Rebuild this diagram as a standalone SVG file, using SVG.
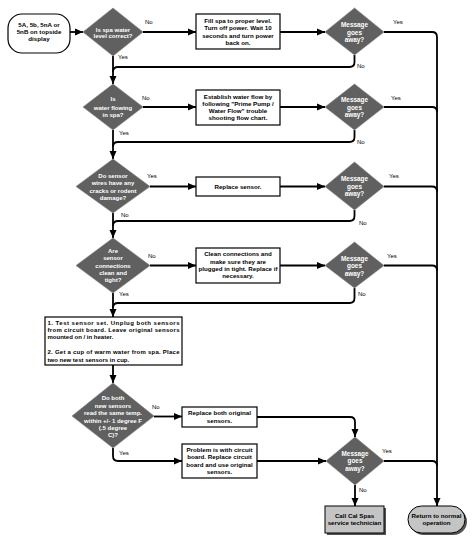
<svg xmlns="http://www.w3.org/2000/svg" width="474" height="543" viewBox="0 0 474 543">
<defs>
<marker id="ah" markerUnits="userSpaceOnUse" markerWidth="8" markerHeight="8" viewBox="0 0 8 8" refX="8" refY="4" orient="auto"><path d="M0,0.5 L8,4 L0,7.5 Z" fill="#000"/></marker>
<style>
.bx{fill:#fff;stroke:#000;stroke-width:1.2}
.dm{fill:#606060;stroke:#808080;stroke-width:0.6}
.gr{fill:#c4c4c4;stroke:#000;stroke-width:1}
.sh{fill:#555}
.t{font-family:"Liberation Sans",Arial,sans-serif;font-size:6.2px;font-weight:bold;fill:#000;text-anchor:middle}
.w{font-family:"Liberation Sans",Arial,sans-serif;font-size:6px;font-weight:bold;fill:#fff;text-anchor:middle}
.m{font-size:6.4px}
.l{font-family:"Liberation Sans",Arial,sans-serif;font-size:6px;fill:#000}
.tl{font-family:"Liberation Sans",Arial,sans-serif;font-size:6px;font-weight:bold;fill:#000}
.c{fill:none;stroke:#000;stroke-width:1.8}
</style>
</defs>
<rect width="474" height="543" fill="#fff"/>
<g id="connectors">
<path class="c" d="M70 32 H83" marker-end="url(#ah)"/>
<path class="c" d="M143 32 H196" marker-end="url(#ah)"/>
<path class="c" d="M280 32 H325" marker-end="url(#ah)"/>
<path class="c" d="M384 32 H432 Q437 32 437 37 V506" marker-end="url(#ah)"/>
<path class="c" d="M113 56 V84" marker-end="url(#ah)"/>
<path class="c" d="M354.5 55 V62 Q354.5 67 349.5 67 H118 Q113 67 113 72"/>
<path class="c" d="M143 107 H196" marker-end="url(#ah)"/>
<path class="c" d="M280 107 H325" marker-end="url(#ah)"/>
<path class="c" d="M384 107 H432 Q437 107 437 112"/>
<path class="c" d="M113 130 V159" marker-end="url(#ah)"/>
<path class="c" d="M354.5 130 V137 Q354.5 142 349.5 142 H118 Q113 142 113 147"/>
<path class="c" d="M150 186.5 H196" marker-end="url(#ah)"/>
<path class="c" d="M280 186.5 H325" marker-end="url(#ah)"/>
<path class="c" d="M384 186.5 H432 Q437 186.5 437 191.5"/>
<path class="c" d="M113 213 V238" marker-end="url(#ah)"/>
<path class="c" d="M354.5 210 V216 Q354.5 221 349.5 221 H118 Q113 221 113 226"/>
<path class="c" d="M150 265.5 H196" marker-end="url(#ah)"/>
<path class="c" d="M280 265.5 H325" marker-end="url(#ah)"/>
<path class="c" d="M384 265.5 H432 Q437 265.5 437 270.5"/>
<path class="c" d="M113 293 V317" marker-end="url(#ah)"/>
<path class="c" d="M354.5 288 V298 Q354.5 303 349.5 303 H118 Q113 303 113 308"/>
<path class="c" d="M113 365 V383" marker-end="url(#ah)"/>
<path class="c" d="M154 416.5 H182" marker-end="url(#ah)"/>
<path class="c" d="M113 448 V456 Q113 461 118 461 H182" marker-end="url(#ah)"/>
<path class="c" d="M257 417 H350 Q355 417 355 422 V437" marker-end="url(#ah)"/>
<path class="c" d="M257 461 H326" marker-end="url(#ah)"/>
<path class="c" d="M384 461 H432 Q437 461 437 466"/>
<path class="c" d="M355 485 V506" marker-end="url(#ah)"/>
</g>
<g id="labels">
<text class="l" x="145" y="24">No</text>
<text class="l" x="118" y="59">Yes</text>
<text class="l" x="393" y="24">Yes</text>
<text class="l" x="357" y="68">No</text>
<text class="l" x="142" y="99.5">No</text>
<text class="l" x="119" y="134.5">Yes</text>
<text class="l" x="391" y="99.5">Yes</text>
<text class="l" x="357" y="144">No</text>
<text class="l" x="147" y="178">Yes</text>
<text class="l" x="121" y="217">No</text>
<text class="l" x="389" y="178">Yes</text>
<text class="l" x="359" y="225">No</text>
<text class="l" x="148" y="258">No</text>
<text class="l" x="119" y="296">Yes</text>
<text class="l" x="387" y="258">Yes</text>
<text class="l" x="358" y="295.5">No</text>
<text class="l" x="152" y="409">No</text>
<text class="l" x="119" y="455">Yes</text>
<text class="l" x="382" y="453">Yes</text>
<text class="l" x="359" y="491.5">No</text>
</g>
<g id="start">
<rect class="bx" x="8" y="14" width="62" height="39" rx="14" ry="14"/>
<text class="t" x="39" y="27">5A, 5b, 5nA or</text>
<text class="t" x="39" y="34.3">5nB on topside</text>
<text class="t" x="39" y="41.3">display</text>
</g>
<g id="d1">
<polygon class="dm" points="113,8 143,32 113,56 83,32"/>
<text class="w" x="113" y="31.5">Is spa water</text>
<text class="w" x="113" y="37.5">level correct?</text>
</g>
<g id="b1">
<rect class="bx" x="196" y="14" width="84" height="35"/>
<text class="t" x="238" y="23">Fill spa to proper level.</text>
<text class="t" x="238" y="30.3">Turn off power. Wait 10</text>
<text class="t" x="238" y="37.7">seconds and turn power</text>
<text class="t" x="238" y="44.7">back on.</text>
</g>
<g id="m1">
<polygon class="dm" points="354.5,8 384,32 354.5,55 325,32"/>
<text class="w m" x="354.5" y="27.2">Message</text>
<text class="w m" x="354.5" y="34.5">goes</text>
<text class="w m" x="354.5" y="41.5">away?</text>
</g>
<g id="d2">
<polygon class="dm" points="113,84 143,107 113,130 83,107"/>
<text class="w" x="113" y="101.3">Is</text>
<text class="w" x="113" y="109.7">water flowing</text>
<text class="w" x="113" y="117">in spa?</text>
</g>
<g id="b2">
<rect class="bx" x="196" y="90" width="84" height="35"/>
<text class="t" x="238" y="98.7">Establish water flow by</text>
<text class="t" x="238" y="105.7">following "Prime Pump /</text>
<text class="t" x="238" y="113">Water Flow" trouble</text>
<text class="t" x="238" y="120">shooting flow chart.</text>
</g>
<g id="m2">
<polygon class="dm" points="354.5,84 384,107 354.5,130 325,107"/>
<text class="w m" x="354.5" y="102.2">Message</text>
<text class="w m" x="354.5" y="109.5">goes</text>
<text class="w m" x="354.5" y="116.9">away?</text>
</g>
<g id="d3">
<polygon class="dm" points="113,159 150,186.5 113,213 76,186.5"/>
<text class="w" x="113" y="177.7">Do sensor</text>
<text class="w" x="113" y="185.3">wires have any</text>
<text class="w" x="113" y="192.7">cracks or rodent</text>
<text class="w" x="113" y="199.7">damage?</text>
</g>
<g id="b3">
<rect class="bx" x="196" y="177" width="84" height="19"/>
<text class="t" x="238" y="188.7">Replace sensor.</text>
</g>
<g id="m3">
<polygon class="dm" points="354.5,162 384,186.5 354.5,210 325,186.5"/>
<text class="w m" x="354.5" y="181.2">Message</text>
<text class="w m" x="354.5" y="188.9">goes</text>
<text class="w m" x="354.5" y="196.2">away?</text>
</g>
<g id="d4">
<polygon class="dm" points="113,238 150,265.5 113,293 76,265.5"/>
<text class="w" x="113" y="252.7">Are</text>
<text class="w" x="113" y="260.3">sensor</text>
<text class="w" x="113" y="267.7">connections</text>
<text class="w" x="113" y="275.3">clean and</text>
<text class="w" x="113" y="282">tight?</text>
</g>
<g id="b4">
<rect class="bx" x="196" y="248" width="84" height="35"/>
<text class="t" x="238" y="256">Clean connections and</text>
<text class="t" x="238" y="263.7">make sure they are</text>
<text class="t" x="238" y="271">plugged in tight. Replace if</text>
<text class="t" x="238" y="278">necessary.</text>
</g>
<g id="m4">
<polygon class="dm" points="354.5,242 384,265.5 354.5,288 325,265.5"/>
<text class="w m" x="354.5" y="260.5">Message</text>
<text class="w m" x="354.5" y="267.9">goes</text>
<text class="w m" x="354.5" y="275.5">away?</text>
</g>
<g id="b5">
<rect class="bx" x="45" y="317" width="137" height="48"/>
<text class="tl" x="47.5" y="325.3" textLength="132" lengthAdjust="spacing">1. Test sensor set. Unplug both sensors</text>
<text class="tl" x="47.5" y="332" textLength="132" lengthAdjust="spacing">from circuit board. Leave original sensors</text>
<text class="tl" x="47.5" y="339.3">mounted on / in heater.</text>
<text class="tl" x="47.5" y="354.3" textLength="132" lengthAdjust="spacing">2. Get a cup of warm water from spa. Place</text>
<text class="tl" x="47.5" y="362">two new test sensors in cup.</text>
</g>
<g id="d6">
<polygon class="dm" points="113,383 154,416 113,448 72,416"/>
<text class="w" x="113" y="400.3">Do both</text>
<text class="w" x="113" y="407.7">new sensors</text>
<text class="w" x="113" y="415.3">read the same temp.</text>
<text class="w" x="113" y="422.7">within +/- 1 degree F</text>
<text class="w" x="113" y="429.7">(.5 degree</text>
<text class="w" x="113" y="437">C)?</text>
</g>
<g id="b6">
<rect class="bx" x="182" y="407" width="75" height="20"/>
<text class="t" x="219.5" y="415.3">Replace both original</text>
<text class="t" x="219.5" y="422.7">sensors.</text>
</g>
<g id="b7">
<rect class="bx" x="182" y="444" width="75" height="34"/>
<text class="t" x="219.5" y="452">Problem is with circuit</text>
<text class="t" x="219.5" y="459.3">board. Replace circuit</text>
<text class="t" x="219.5" y="466.7">board and use original</text>
<text class="t" x="219.5" y="474">sensors.</text>
</g>
<g id="m5">
<polygon class="dm" points="355,437 384,461 355,485 326,461"/>
<text class="w m" x="355" y="455.5">Message</text>
<text class="w m" x="355" y="462.9">goes</text>
<text class="w m" x="355" y="470.9">away?</text>
</g>
<g id="call">
<rect class="sh" x="327" y="508" width="59" height="27"/>
<rect class="gr" x="325" y="506" width="59" height="27"/>
<text class="t" x="354.5" y="517.7">Call Cal Spas</text>
<text class="t" x="354.5" y="525.3">service technician</text>
</g>
<g id="return">
<rect class="sh" x="410" y="508" width="57" height="27" rx="13.5" ry="13.5"/>
<rect class="gr" x="408" y="506" width="57" height="27" rx="13.5" ry="13.5"/>
<text class="t" x="436.5" y="517.7">Return to normal</text>
<text class="t" x="436.5" y="525.3">operation</text>
</g>
</svg>
